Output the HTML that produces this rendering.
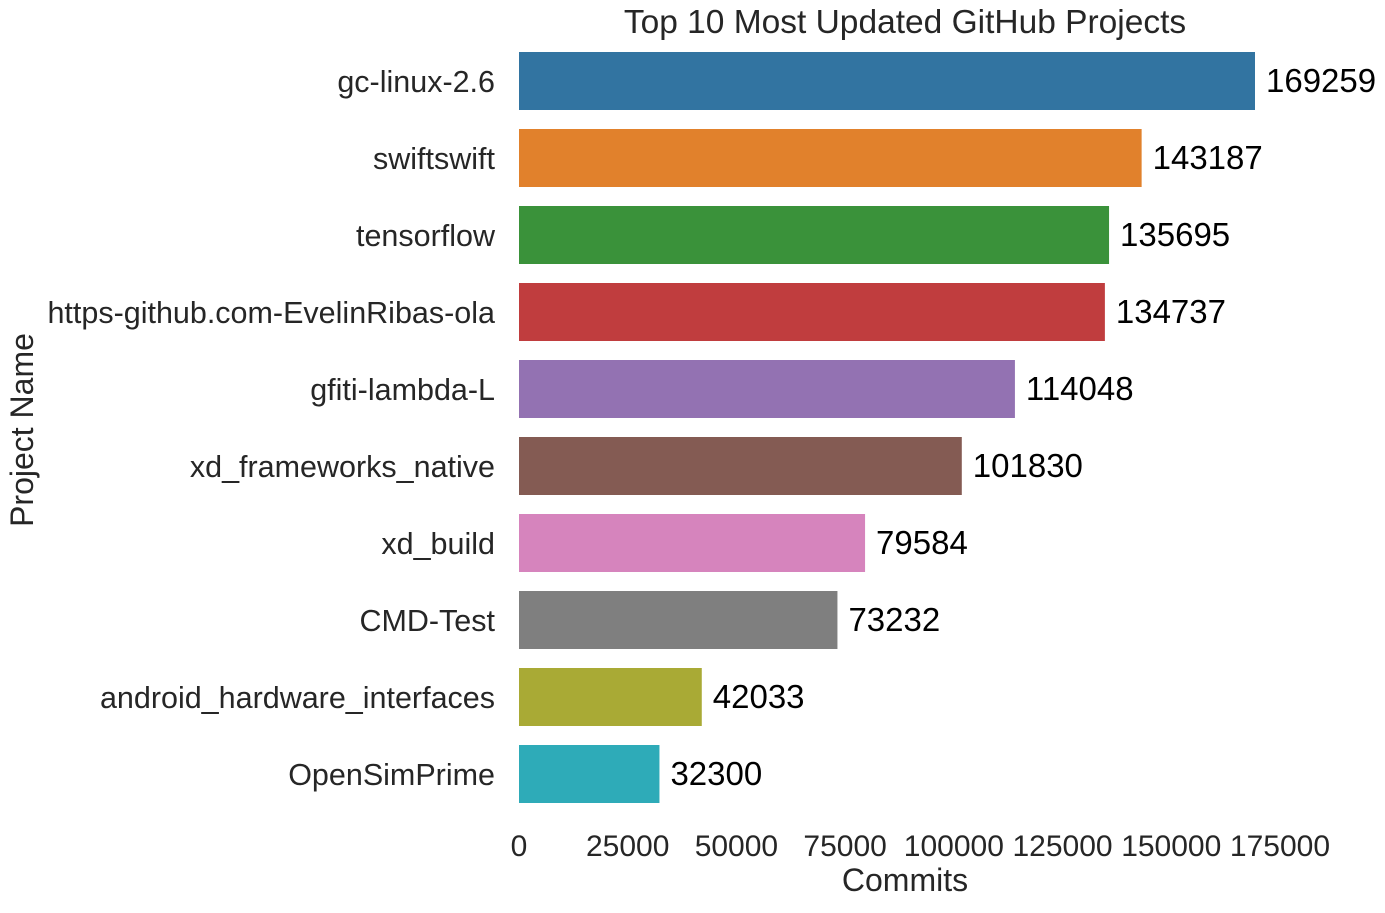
<!DOCTYPE html>
<html><head><meta charset="utf-8"><style>
body{margin:0;background:#fff;}
svg text{font-family:"Liberation Sans",Arial,sans-serif;fill:#262626;}
</style></head><body>
<svg id="chart" width="1385" height="908">
<text x="905" y="33" font-size="33.5" text-anchor="middle">Top 10 Most Updated GitHub Projects</text>
<text x="905" y="891" font-size="32" text-anchor="middle">Commits</text>
<text transform="translate(33,430) rotate(-90)" font-size="32" text-anchor="middle">Project Name</text>
<g id="bars"></g><g id="xticks"></g>
</svg>
<script>
const categories=["gc-linux-2.6","swiftswift","tensorflow","https-github.com-EvelinRibas-ola","gfiti-lambda-L","xd_frameworks_native","xd_build","CMD-Test","android_hardware_interfaces","OpenSimPrime"];
const commits=[169259,143187,135695,134737,114048,101830,79584,73232,42033,32300];
const tickValues=[0,25000,50000,75000,100000,125000,150000,175000];
const colors=["#3274a1","#e1812c","#3a923a","#c03d3e","#9372b2","#845b53","#d684bd","#7f7f7f","#a9aa35","#2eabb8"];
const NS="http://www.w3.org/2000/svg";
const x0=519,x1=1255,vmax=169259;
const xs=v=>x0+(v/vmax)*(x1-x0);
const yc=i=>81+i*77;
const bh=58;
const gb=document.getElementById('bars'),gt=document.getElementById('xticks');
categories.forEach((c,i)=>{
 const r=document.createElementNS(NS,'rect');
 
 
 r.setAttribute('x',xs(0));r.setAttribute('y',yc(i)-bh/2);
 r.setAttribute('width',xs(commits[i])-xs(0));r.setAttribute('height',bh);
 r.setAttribute('fill',colors[i]);gb.appendChild(r);
 const l=document.createElementNS(NS,'text');
 
 
 l.setAttribute('x',495);l.setAttribute('y',yc(i)+11);l.setAttribute('font-size','30.5');
 l.setAttribute('text-anchor','end');l.textContent=c;gb.appendChild(l);
 const v=document.createElementNS(NS,'text');
 
 
 v.setAttribute('x',xs(commits[i])+11);v.setAttribute('y',yc(i)+11);v.setAttribute('font-size','33');
 v.setAttribute('style','fill:#000');v.textContent=commits[i];gb.appendChild(v);
});
tickValues.forEach(t=>{
 const l=document.createElementNS(NS,'text');
 
 
 l.setAttribute('x',xs(t));l.setAttribute('y',856);l.setAttribute('font-size','30');
 l.setAttribute('text-anchor','middle');l.textContent=t;gt.appendChild(l);
});
</script>
</body></html>
